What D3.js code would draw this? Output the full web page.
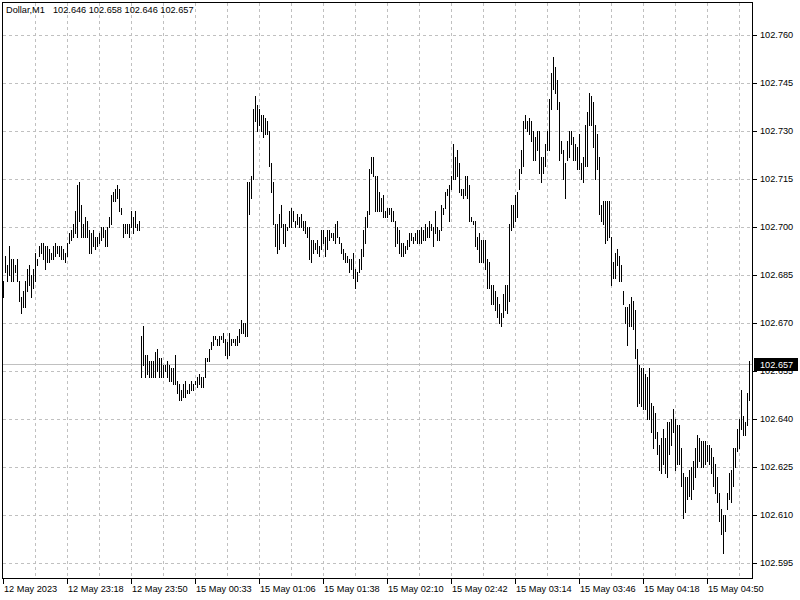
<!DOCTYPE html>
<html><head><meta charset="utf-8">
<script src="https://cdn.jsdelivr.net/npm/d3@7"></script>
<style>
html,body{margin:0;padding:0;background:#fff;}
svg text{font-family:Tahoma,"Liberation Sans",Arial,sans-serif;font-size:9.2px;}
</style></head>
<body>
<svg id="chart" width="800" height="600"></svg>
<script>
const symbol = "Dollar,M1";
const lastOHLC = [102.646, 102.658, 102.646, 102.657];
const priceTicks = ["102.760","102.745","102.730","102.715","102.700","102.685","102.670","102.655","102.640","102.625","102.610","102.595"];
const timeLabels = ["12 May 2023","12 May 23:18","12 May 23:50","15 May 00:33","15 May 01:06","15 May 01:38","15 May 02:10","15 May 02:42","15 May 03:14","15 May 03:46","15 May 04:18","15 May 04:50"];
const timeLabelBars = [0,32,64,96,128,160,192,224,256,288,320,352];

const high = [
102.683,102.691,102.688,102.694,102.690,102.690,102.688,102.690,102.683,102.678,
102.680,102.683,102.687,102.688,102.685,102.687,102.692,102.690,102.694,102.695,
102.695,102.694,102.694,102.693,102.692,102.694,102.695,102.694,102.694,102.694,
102.693,102.692,102.695,102.698,102.699,102.701,102.705,102.713,102.714,102.707,
102.701,102.703,102.702,102.699,102.698,102.699,102.697,102.697,102.698,102.700,
102.700,102.699,102.700,102.703,102.710,102.711,102.712,102.713,102.712,102.706,
102.701,102.701,102.701,102.701,102.705,102.703,102.705,102.701,102.702,
102.666,102.669,102.660,102.660,102.658,102.658,102.658,102.661,102.662,102.659,
102.659,102.657,102.657,102.658,102.657,102.656,102.656,102.660,102.652,102.651,
102.649,102.651,102.652,102.649,102.651,102.652,102.651,102.652,102.653,102.654,
102.653,102.653,102.659,102.659,102.662,102.664,102.666,102.666,102.665,102.666,
102.666,102.667,102.665,102.664,102.667,102.665,102.665,102.665,102.666,102.668,
102.671,102.670,102.670,102.714,
102.714,102.716,102.737,102.741,102.738,102.737,102.735,102.735,102.734,102.733,
102.730,102.720,102.714,102.701,102.701,102.704,102.707,102.701,102.701,102.700,
102.705,102.706,102.705,102.702,102.704,102.703,102.704,102.702,102.702,102.700,
102.700,102.696,102.696,102.695,102.696,102.694,102.699,102.699,102.697,102.699,
102.699,102.698,102.698,102.701,102.702,102.697,102.695,102.693,102.692,102.691,
102.690,102.690,102.692,102.687,102.686,102.690,102.693,102.699,102.703,102.705,
102.718,102.722,102.722,102.716,102.716,
102.711,102.709,102.710,102.705,102.706,102.706,102.706,102.705,102.702,102.700,
102.699,102.695,102.695,102.694,102.696,102.698,102.698,102.697,102.698,102.699,
102.699,102.700,102.699,102.701,102.700,102.702,102.701,102.700,102.705,102.700,
102.699,102.707,102.706,102.711,102.712,102.713,102.716,102.726,102.722,102.724,
102.720,102.712,102.712,102.716,102.716,102.713,102.703,102.702,102.702,102.697,
102.698,102.696,102.696,102.696,102.690,102.689,102.682,102.682,102.680,102.678,
102.676,102.673,102.679,102.682,102.682,102.701,
102.707,102.707,102.710,102.711,102.718,102.724,102.733,102.735,102.733,102.734,
102.733,102.730,102.728,102.730,102.730,102.722,102.722,102.726,102.730,102.740,
102.748,102.753,102.750,102.746,102.739,102.727,102.724,102.720,102.727,102.730,
102.730,102.728,102.726,102.725,102.729,102.720,102.722,102.732,102.736,102.742,
102.741,102.739,102.732,102.729,102.722,
102.707,102.708,102.708,102.708,102.708,102.697,102.689,102.692,102.693,102.691,
102.688,102.680,102.675,102.675,102.676,102.678,102.677,102.674,102.662,102.657,
102.656,102.656,102.654,102.653,102.656,102.645,102.644,102.642,102.636,102.632,
102.634,102.637,102.634,102.639,102.639,102.640,102.643,102.640,102.638,102.638,
102.631,102.623,102.622,102.622,102.624,102.625,102.627,102.631,102.635,102.634,
102.633,102.633,102.633,102.632,102.632,102.631,102.628,102.626,102.622,102.617,
102.612,102.610,102.610,102.617,102.623,102.624,102.631,102.631,102.637,102.640,
102.649,102.641,102.639,102.648,102.658
];
const low = [
102.678,102.686,102.683,102.685,102.683,102.683,102.686,102.683,102.677,102.673,
102.675,102.675,102.680,102.682,102.678,102.681,102.683,102.688,102.691,102.692,
102.690,102.687,102.689,102.689,102.690,102.690,102.691,102.692,102.691,102.690,
102.690,102.689,102.691,102.695,102.696,102.697,102.698,102.697,102.702,102.697,
102.697,102.697,102.697,102.692,102.692,102.694,102.693,102.694,102.695,102.696,
102.697,102.694,102.694,102.700,102.701,102.708,102.708,102.709,102.705,102.704,
102.697,102.698,102.698,102.697,102.700,102.698,102.700,102.699,102.699,
102.653,102.657,102.653,102.654,102.653,102.653,102.653,102.653,102.655,102.653,
102.653,102.653,102.655,102.653,102.652,102.652,102.651,102.651,102.648,102.646,
102.646,102.647,102.647,102.648,102.648,102.649,102.649,102.651,102.650,102.651,
102.650,102.650,102.653,102.658,102.658,102.662,102.663,102.665,102.663,102.663,
102.665,102.664,102.660,102.659,102.660,102.663,102.664,102.663,102.663,102.664,
102.667,102.667,102.666,102.666,
102.704,102.709,102.715,102.733,102.730,102.732,102.730,102.728,102.729,102.729,
102.719,102.711,102.701,102.694,102.692,102.693,102.700,102.695,102.694,102.699,
102.700,102.700,102.702,102.700,102.701,102.700,102.700,102.699,102.698,102.697,
102.690,102.689,102.692,102.693,102.692,102.691,102.693,102.695,102.691,102.693,
102.696,102.697,102.696,102.695,102.697,102.695,102.692,102.690,102.689,102.689,
102.686,102.687,102.684,102.681,102.683,102.686,102.687,102.691,102.695,102.700,
102.704,102.717,102.716,102.705,102.705,
102.705,102.705,102.703,102.703,102.703,102.704,102.702,102.702,102.694,102.695,
102.692,102.691,102.691,102.692,102.693,102.694,102.696,102.695,102.696,102.695,
102.695,102.695,102.696,102.696,102.697,102.697,102.699,102.694,102.698,102.696,
102.696,102.699,102.704,102.706,102.710,102.702,102.712,102.715,102.715,102.716,
102.711,102.710,102.709,102.710,102.709,102.702,102.702,102.701,102.694,102.693,
102.689,102.689,102.689,102.687,102.681,102.681,102.676,102.676,102.674,102.672,
102.670,102.669,102.672,102.674,102.673,102.677,
102.699,102.700,102.702,102.703,102.712,102.717,102.719,102.731,102.730,102.729,
102.727,102.721,102.721,102.724,102.717,102.714,102.717,102.719,102.724,102.724,
102.737,102.743,102.742,102.737,102.721,102.723,102.715,102.709,102.721,102.722,
102.726,102.721,102.721,102.718,102.718,102.715,102.714,102.719,102.719,102.732,
102.732,102.725,102.715,102.718,102.704,
102.702,102.701,102.695,102.696,102.697,102.682,102.684,102.684,102.688,102.683,
102.683,102.676,102.670,102.663,102.669,102.669,102.668,102.659,102.644,102.645,
102.644,102.643,102.643,102.640,102.640,102.636,102.631,102.634,102.629,102.624,
102.623,102.626,102.623,102.622,102.629,102.632,102.636,102.624,102.626,102.626,
102.619,102.609,102.611,102.615,102.616,102.615,102.618,102.622,102.625,102.627,
102.625,102.625,102.626,102.627,102.626,102.623,102.619,102.617,102.614,102.608,
102.604,102.598,102.605,102.612,102.615,102.614,102.619,102.625,102.630,102.631,
102.637,102.635,102.635,102.638,102.646
];

const svg = d3.select("#chart");
const n = high.length;
const x = d3.scaleLinear().domain([0, n - 1]).range([3.5, 749.5]);
const y = d3.scaleLinear().domain([102.595, 102.760]).range([563, 35]);
const snap = v => Math.round(v) + 0.5;
const gridColor = "#c0c0c0";

svg.append("rect").attr("width", 800).attr("height", 600).attr("fill", "#fff");

// horizontal grid
const gH = svg.append("g").attr("shape-rendering", "crispEdges");
gH.selectAll("line").data(priceTicks).join("line")
  .attr("x1", 3).attr("x2", 752)
  .attr("y1", d => snap(y(+d))).attr("y2", d => snap(y(+d)))
  .attr("stroke", gridColor).attr("stroke-dasharray", "3,3");

// vertical grid
const gV = svg.append("g").attr("shape-rendering", "crispEdges");
gV.selectAll("line").data(d3.range(16, n, 16)).join("line")
  .attr("x1", d => x(d)).attr("x2", d => x(d))
  .attr("y1", 3).attr("y2", 578)
  .attr("stroke", gridColor).attr("stroke-dasharray", "3,3");

// current price line
const closeY = snap(y(lastOHLC[3]) - 0.5);
svg.append("line").attr("x1", 3).attr("x2", 752).attr("y1", closeY).attr("y2", closeY)
  .attr("stroke", "#c0c0c0").attr("shape-rendering", "crispEdges");

// bars
svg.append("g").attr("shape-rendering", "crispEdges")
  .selectAll("line").data(d3.range(n)).join("line")
  .attr("x1", i => x(i)).attr("x2", i => x(i))
  .attr("y1", i => Math.round(y(high[i]))).attr("y2", i => Math.round(y(low[i])) + 1)
  .attr("stroke", "#000").attr("stroke-width", 1);

// frame
svg.append("rect").attr("x", 2.5).attr("y", 2.5).attr("width", 750).attr("height", 576)
  .attr("fill", "none").attr("stroke", "#000").attr("shape-rendering", "crispEdges");

// right price axis
const gR = svg.append("g").attr("shape-rendering", "crispEdges");
gR.selectAll("line").data(priceTicks).join("line")
  .attr("x1", 753).attr("x2", 757)
  .attr("y1", d => snap(y(+d))).attr("y2", d => snap(y(+d)))
  .attr("stroke", "#000");
svg.append("g").selectAll("text").data(priceTicks).join("text")
  .attr("x", 760).attr("y", d => y(+d)).attr("dy", "0.35em")
  .attr("fill", "#000").text(d => d);

// current price label
const cy = y(lastOHLC[3]);
svg.append("rect").attr("x", 754).attr("y", Math.round(cy) - 7).attr("width", 44).attr("height", 13)
  .attr("fill", "#000");
svg.append("text").attr("x", 760).attr("y", cy).attr("dy", "0.35em")
  .attr("fill", "#fff").text(d3.format(".3f")(lastOHLC[3]));

// bottom time axis
const gB = svg.append("g");
gB.selectAll("line").data(timeLabelBars).join("line")
  .attr("x1", d => x(d)).attr("x2", d => x(d)).attr("y1", 579).attr("y2", 584)
  .attr("stroke", "#000").attr("shape-rendering", "crispEdges");
gB.selectAll("text").data(timeLabels).join("text")
  .attr("x", (d, i) => x(timeLabelBars[i]) + 0.5).attr("y", 592)
  .attr("fill", "#000").text(d => d);

// header
svg.append("text").attr("x", 6).attr("y", 13).attr("fill", "#000").text(symbol);
svg.append("text").attr("x", 53).attr("y", 13).attr("fill", "#000")
  .text(lastOHLC.map(d3.format(".3f")).join(" "));
</script>
</body></html>
